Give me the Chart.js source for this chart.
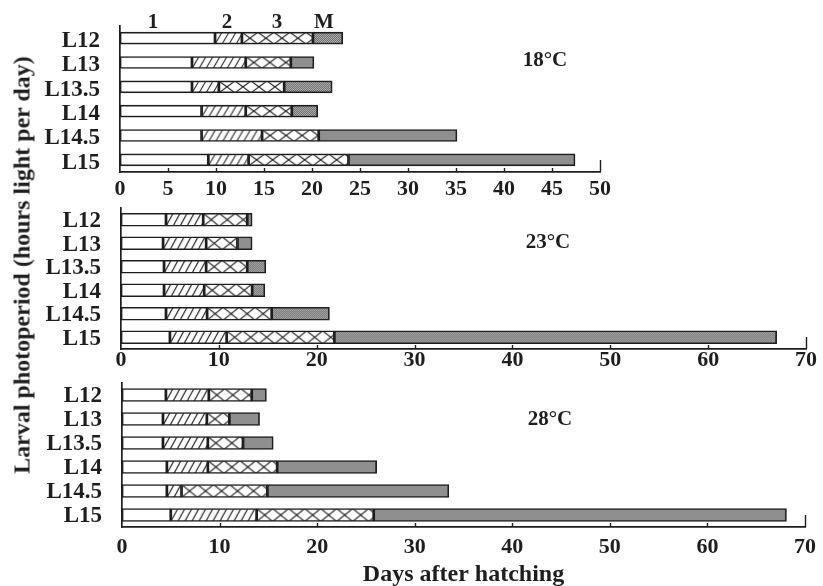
<!DOCTYPE html>
<html>
<head>
<meta charset="utf-8">
<script src="https://cdn.jsdelivr.net/npm/chart.js@4.4.1/dist/chart.umd.min.js"></script>
<style>
  body { margin: 0; background: #fff; }
  #wrap { position: relative; width: 823px; height: 586px; overflow: hidden;
          font-family: "Liberation Serif", "DejaVu Serif", serif; font-weight: bold; color: #1e1e1e; }
  canvas { position: absolute; left: 0; }
  .lbl { position: absolute; font-size: 21px; line-height: 21px; white-space: nowrap;
         transform: translate(-50%, -50%); }
  #ytitle { position: absolute; left: 22px; top: 265px; font-size: 24px; white-space: nowrap;
            transform: translate(-50%, -50%) rotate(-90deg); }
</style>
</head>
<body>
<div id="wrap">
  <canvas id="c18" width="823" height="210" style="top:0px"></canvas>
  <canvas id="c23" width="823" height="180" style="top:200px"></canvas>
  <canvas id="c28" width="823" height="214" style="top:375px"></canvas>

  <div class="lbl" style="left:153px; top:21px">1</div>
  <div class="lbl" style="left:227px; top:21px">2</div>
  <div class="lbl" style="left:277px; top:21px">3</div>
  <div class="lbl" style="left:324px; top:21px">M</div>

  <div class="lbl" style="left:545px; top:59px">18°C</div>
  <div class="lbl" style="left:548px; top:241px">23°C</div>
  <div class="lbl" style="left:550px; top:418px">28°C</div>

  <div id="ytitle">Larval photoperiod (hours light per day)</div>
</div>

<script>
const photoperiods = ['L12', 'L13', 'L13.5', 'L14', 'L14.5', 'L15'];

// day on which each stage ends, one value per photoperiod
// 18 C
const end1_18 = [9.9, 7.5, 7.5, 8.5, 8.5, 9.2];
const end2_18 = [12.7, 13.1, 10.3, 13.1, 14.8, 13.4];
const end3_18 = [20.1, 17.8, 17.1, 17.9, 20.7, 23.8];
const endM_18 = [23.2, 20.2, 22.1, 20.6, 35.1, 47.4];
// 23 C
const end1_23 = [4.6, 4.3, 4.4, 4.4, 4.6, 5.0];
const end2_23 = [8.4, 8.7, 8.7, 8.5, 8.8, 10.8];
const end3_23 = [12.9, 11.9, 12.9, 13.4, 15.4, 21.8];
const endM_23 = [13.4, 13.4, 14.8, 14.7, 21.3, 67.0];
// 28 C
const end1_28 = [4.5, 4.2, 4.2, 4.6, 4.6, 5.0];
const end2_28 = [8.9, 8.7, 8.8, 8.8, 6.1, 13.8];
const end3_28 = [13.3, 11.0, 12.4, 15.9, 14.9, 25.8];
const endM_28 = [14.8, 14.1, 15.5, 26.1, 33.5, 68.1];

const xTicks18 = [0, 5, 10, 15, 20, 25, 30, 35, 40, 45, 50];
const xTicks23 = [0, 10, 20, 30, 40, 50, 60, 70];
const xTicks28 = [0, 10, 20, 30, 40, 50, 60, 70];

const INK = '#1e1e1e';
const SERIF = '"Liberation Serif", "DejaVu Serif", serif';

// pattern tiles
function tile(w, h, draw) {
  const c = document.createElement('canvas');
  c.width = w; c.height = h;
  const g = c.getContext('2d');
  draw(g, w, h);
  return c;
}

function hatchTile(h) {
  return tile(7, h, (g, w, h) => {
    g.fillStyle = '#fff'; g.fillRect(0, 0, w, h);
    g.strokeStyle = INK; g.lineWidth = 1.1;
    g.beginPath();
    g.moveTo(0, h); g.lineTo(w, 0);
    g.moveTo(-w, h); g.lineTo(0, 0);
    g.moveTo(w, h); g.lineTo(2 * w, 0);
    g.stroke();
  });
}

function crossTile(h) {
  return tile(16, h, (g, w, h) => {
    g.fillStyle = '#fff'; g.fillRect(0, 0, w, h);
    g.strokeStyle = INK; g.lineWidth = 1.1;
    g.beginPath();
    g.moveTo(0, 0); g.lineTo(w, h);
    g.moveTo(0, h); g.lineTo(w, 0);
    g.stroke();
  });
}

const dotTile = tile(2, 2, (g) => {
  g.fillStyle = '#c2c2c2'; g.fillRect(0, 0, 2, 2);
  g.fillStyle = '#5c5c5c'; g.fillRect(0, 0, 1, 1); g.fillRect(1, 1, 1, 1);
});

// pattern aligned to the top-left corner of each bar segment
function alignedFill(tileCanvas, thickness) {
  return (ctx) => {
    if (ctx.type !== 'data') return '#fff';
    const chart = ctx.chart;
    const ys = chart.scales.y, xs = chart.scales.x;
    if (!ys || !xs) return '#fff';
    const p = chart.ctx.createPattern(tileCanvas, 'repeat');
    const top = ys.getPixelForValue(ctx.dataIndex) - thickness / 2;
    const left = xs.getPixelForValue(ctx.raw[0]);
    if (p.setTransform) p.setTransform(new DOMMatrix([1, 0, 0, 1, left, top]));
    return p;
  };
}

// inward (upward) ticks on the x axis, longer at the final value
const innerTicks = {
  id: 'innerTicks',
  afterDraw(chart) {
    const xs = chart.scales.x;
    const g = chart.ctx;
    const bottom = chart.chartArea.bottom;
    g.save();
    g.strokeStyle = INK; g.lineWidth = 1.4;
    xs.ticks.forEach((t, i) => {
      if (t.value === 0) return;
      const px = Math.round(xs.getPixelForValue(t.value)) + 0.5;
      const len = i === xs.ticks.length - 1 ? 12 : 4;
      g.beginPath(); g.moveTo(px, bottom); g.lineTo(px, bottom - len); g.stroke();
    });
    g.restore();
  }
};

function makePanel(id, ends, xTicks, cfg) {
  const [e1, e2, e3, eM] = ends;
  const spans = [
    e1.map(v => [0, v]),
    e2.map((v, i) => [e1[i], v]),
    e3.map((v, i) => [e2[i], v]),
    eM.map((v, i) => [e3[i], v])
  ];
  const fills = [
    '#fff',
    alignedFill(hatchTile(cfg.thick), cfg.thick),
    alignedFill(crossTile(cfg.thick), cfg.thick),
    alignedFill(dotTile, cfg.thick)
  ];
  const names = ['1', '2', '3', 'M'];

  return new Chart(document.getElementById(id), {
    type: 'bar',
    data: {
      labels: photoperiods,
      datasets: spans.map((d, k) => ({
        label: names[k],
        data: d,
        backgroundColor: fills[k],
        borderColor: INK,
        borderWidth: 1.7,
        borderSkipped: false,
        barThickness: cfg.thick,
        grouped: false
      }))
    },
    options: {
      indexAxis: 'y',
      responsive: false,
      animation: false,
      events: [],
      layout: { padding: { top: cfg.top, right: cfg.right, left: 0, bottom: 0 } },
      plugins: { legend: { display: false }, tooltip: { enabled: false } },
      scales: {
        y: {
          grid: { display: false, drawTicks: false },
          border: { display: true, color: INK, width: 1.7 },
          ticks: { color: INK, padding: 20, autoSkip: false, labelOffset: cfg.labelOff,
                   font: { family: SERIF, size: 23, weight: 'bold' } },
          afterFit: s => { s.width = cfg.left; s.paddingTop = 0; s.paddingBottom = 0; }
        },
        x: {
          min: xTicks[0],
          max: xTicks[xTicks.length - 1],
          grid: { display: false, drawTicks: false },
          border: { display: true, color: INK, width: 1.7 },
          afterBuildTicks: s => { s.ticks = xTicks.map(v => ({ value: v })); },
          ticks: { color: INK, padding: cfg.tickPad, maxRotation: 0, autoSkip: false,
                   font: { family: SERIF, size: 22, weight: 'bold' } },
          title: cfg.title ? { display: true, text: cfg.title, color: INK, padding: { top: 0, bottom: 0 },
                               font: { family: SERIF, size: 24, weight: 'bold' } } : { display: false },
          afterFit: s => { s.height = cfg.xh; }
        }
      }
    },
    plugins: [innerTicks]
  });
}

makePanel('c18', [end1_18, end2_18, end3_18, endM_18], xTicks18,
  { thick: 12, top: 26, right: 223, left: 120, xh: 38, tickPad: 4, labelOff: 3 });
makePanel('c23', [end1_23, end2_23, end3_23, endM_23], xTicks23,
  { thick: 13, top: 8, right: 17, left: 121, xh: 31, tickPad: -2, labelOff: 1.5 });
makePanel('c28', [end1_28, end2_28, end3_28, endM_28], xTicks28,
  { thick: 13, top: 8, right: 16, left: 122, xh: 62, tickPad: 7, labelOff: 1, title: 'Days after hatching' });
</script>
</body>
</html>
